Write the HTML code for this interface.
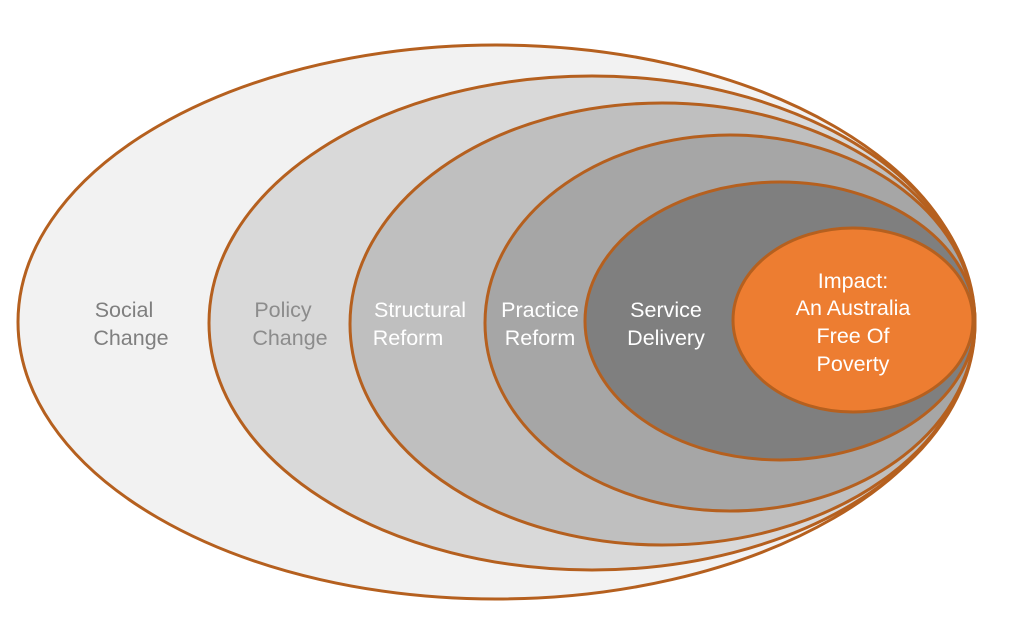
<!DOCTYPE html>
<html><head><meta charset="utf-8"><style>
html,body{margin:0;padding:0;background:#fff;}
svg text{font-family:"Liberation Sans",sans-serif;font-size:21.5px;text-anchor:middle;}
</style></head><body>
<svg width="1010" height="615" viewBox="0 0 1010 615" xmlns="http://www.w3.org/2000/svg">
<g stroke="#b5601f" stroke-width="3">
<ellipse cx="496" cy="322" rx="478" ry="277" fill="#f2f2f2"/>
<ellipse cx="592" cy="323" rx="383" ry="247" fill="#d9d9d9"/>
<ellipse cx="662" cy="324" rx="312" ry="221" fill="#bfbfbf"/>
<ellipse cx="730" cy="323" rx="245" ry="188" fill="#a6a6a6"/>
<ellipse cx="780" cy="321" rx="195" ry="139" fill="#7f7f7f"/>
<ellipse cx="853" cy="320" rx="120" ry="92" fill="#ed7d31"/>
</g>
<text x="124" y="317" fill="#7f7f7f">Social</text>
<text x="131" y="345" fill="#7f7f7f">Change</text>
<text x="283" y="317" fill="#8c8c8c">Policy</text>
<text x="290" y="345" fill="#8c8c8c">Change</text>
<text x="420" y="317" fill="#fff">Structural</text>
<text x="408" y="345" fill="#fff">Reform</text>
<text x="540" y="317" fill="#fff">Practice</text>
<text x="540" y="345" fill="#fff">Reform</text>
<text x="666" y="317" fill="#fff">Service</text>
<text x="666" y="345" fill="#fff">Delivery</text>
<text x="853" y="288" fill="#fff">Impact:</text>
<text x="853" y="315" fill="#fff">An Australia</text>
<text x="853" y="343" fill="#fff">Free Of</text>
<text x="853" y="371" fill="#fff">Poverty</text>
</svg>
</body></html>
